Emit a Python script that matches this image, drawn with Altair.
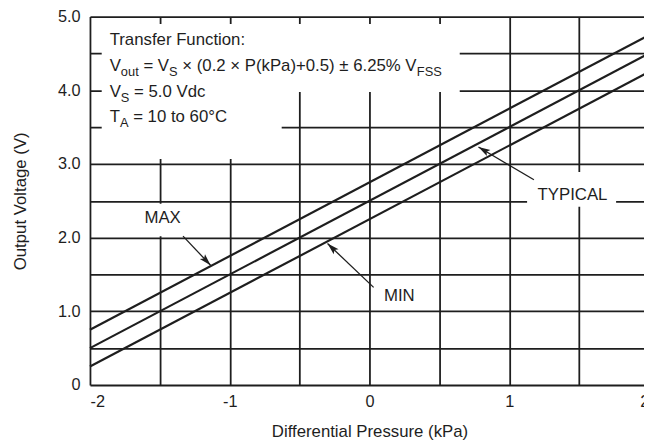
import math
import altair as alt
import pandas as pd

# ---------------- data ----------------
x_ticks = [-2, -1.5, -1, -0.5, 0, 0.5, 1, 1.5, 2]
y_ticks = [0, 0.5, 1, 1.5, 2, 2.5, 3, 3.5, 4, 4.5, 5]

pressure = [-2, 2]
v_max = [0.75, 4.75]
v_typ = [0.5, 4.5]
v_min = [0.25, 4.25]

curve_names = ["MAX", "TYPICAL", "MIN"]
label_x = [-1.48, 1.453, 0.214]
label_y = [2.262, 2.584, 1.205]
arrow_tail_x = [-1.334, 1.177, 0.03]
arrow_tail_y = [2.021, 2.785, 1.325]
arrow_tip_x = [-1.137, 0.78, -0.30]
arrow_tip_y = [1.625, 3.23, 1.92]

# white backgrounds behind the annotations (they interrupt the grid)
mask_x = [-1.916, -1.916, -1.668, 1.128]
mask_x2 = [0.646, -0.628, -1.279, 1.765]
mask_y = [3.976, 3.066, 2.02, 2.42]
mask_y2 = [4.90, 3.976, 2.46, 2.89]

note_lines = [
    [("Transfer Function:", False)],
    [("V", False), ("out", True), (" = V", False), ("S", True),
     (" \u00d7 (0.2 \u00d7 P(kPa)+0.5) \u00b1 6.25% V", False), ("FSS", True)],
    [("V", False), ("S", True), (" = 5.0 Vdc", False)],
    [("T", False), ("A", True), (" = 10 to 60\u00b0C", False)],
]
note_x0 = -1.859
note_baselines = [4.611, 4.263, 3.914, 3.566]

# ---------------- layout / style ----------------
FONT = "Liberation Sans"
INK = "#1e1e1e"
VIEW_W = 566       # x from -2 to 2; the right few pixels are cut off like the reference
VIEW_H = 373
PX_X = VIEW_W / (x_ticks[-1] - x_ticks[0])
PX_Y = VIEW_H / (y_ticks[-1] - y_ticks[0])
MAIN_SIZE = 17
SUB_SIZE = 13
SUB_DROP = 5 / PX_Y

ARIAL = {' ': 278, 'T': 611, 'r': 333, 'a': 556, 'n': 556, 's': 500, 'f': 278,
         'e': 556, 'F': 611, 'u': 556, 'c': 500, 't': 278, 'i': 222, 'o': 556,
         ':': 278, 'V': 667, '=': 584, 'S': 667, '\u00d7': 584, '(': 333,
         ')': 333, '.': 278, 'P': 667, 'k': 500, '+': 584, '\u00b1': 549,
         '%': 889, 'A': 667, 'd': 556, '\u00b0': 400, 'C': 722}


def text_w(s, size):
    return sum(ARIAL.get(c, 556) for c in s) * size / 1000.0


# ---------------- tables ----------------
lines_df = pd.DataFrame({
    "x": pressure * 3,
    "y": v_max + v_typ + v_min,
    "curve": sum([[n] * len(pressure) for n in curve_names], []),
})

mask_df = pd.DataFrame({"x": mask_x, "x2": mask_x2, "y": mask_y, "y2": mask_y2})

labels_df = pd.DataFrame({"x": label_x, "y": label_y, "text": curve_names})

arrows_df = pd.DataFrame({"x": arrow_tail_x, "y": arrow_tail_y,
                          "x2": arrow_tip_x, "y2": arrow_tip_y})

heads = []
for tx, ty, hx, hy in zip(arrow_tail_x, arrow_tail_y, arrow_tip_x, arrow_tip_y):
    dxp = (hx - tx) * PX_X
    dyp = -(hy - ty) * PX_Y
    ang = math.degrees(math.atan2(dxp, -dyp)) % 360
    heads.append({"x": hx, "y": hy, "angle": ang})
heads_df = pd.DataFrame(heads)

segs = []
for line, base in zip(note_lines, note_baselines):
    cursor = 0.0
    for txt, sub in line:
        size = SUB_SIZE if sub else MAIN_SIZE
        lead = len(txt) - len(txt.lstrip(" "))
        cursor += text_w(" " * lead, size)   # SVG drops leading spaces
        body = txt.strip(" ")
        segs.append({"x": note_x0 + cursor / PX_X,
                     "y": base - (SUB_DROP if sub else 0.0),
                     "text": body, "size": size})
        cursor += text_w(txt.lstrip(" "), size)
segs_df = pd.DataFrame(segs)

# ---------------- encodings ----------------
x_scale = alt.Scale(domain=[x_ticks[0], x_ticks[-1]], nice=False, zero=False)
y_scale = alt.Scale(domain=[y_ticks[0], y_ticks[-1]], nice=False, zero=False)

x_axis = alt.Axis(
    values=x_ticks, grid=True, gridColor=INK, gridWidth=1.8, gridOpacity=1,
    ticks=False, domain=False, labelFlush=True, labelOverlap=False,
    labelExpr="datum.value % 1 === 0 ? '' + datum.value : ''",
    labelPadding=9, labelFont=FONT, labelFontSize=16.5, labelColor=INK,
    title="Differential Pressure (kPa)", titleFont=FONT, titleFontSize=17,
    titleFontWeight="normal", titleColor=INK, titlePadding=14,
)
y_axis = alt.Axis(
    values=y_ticks, grid=True, gridColor=INK, gridWidth=1.8, gridOpacity=1,
    ticks=False, domain=False, labelOverlap=False,
    labelExpr="datum.value === 0 ? '0' : (datum.value % 1 === 0 ? format(datum.value, '.1f') : '')",
    labelPadding=10, labelFont=FONT, labelFontSize=16.5, labelColor=INK,
    title="Output Voltage (V)", titleFont=FONT, titleFontSize=17,
    titleFontWeight="normal", titleColor=INK, titlePadding=28,
)


def X(field="x"):
    return alt.X(f"{field}:Q", scale=x_scale, axis=x_axis)


def Y(field="y"):
    return alt.Y(f"{field}:Q", scale=y_scale, axis=y_axis)


masks = alt.Chart(mask_df).mark_rect(color="white", opacity=1).encode(
    x=X(), x2="x2:Q", y=Y(), y2="y2:Q")

curves = alt.Chart(lines_df).mark_line(color=INK, strokeWidth=2.2).encode(
    x=X(), y=Y(), detail="curve:N")

arrow_lines = alt.Chart(arrows_df).mark_rule(color=INK, strokeWidth=1.3).encode(
    x=X(), y=Y(), x2="x2:Q", y2="y2:Q")

arrow_heads = alt.Chart(heads_df).mark_point(
    shape="M0,0L0.6,2L0,1.6L-0.6,2Z", filled=True, color=INK, opacity=1, size=144,
).encode(x=X(), y=Y(), angle=alt.Angle("angle:Q", scale=None))

curve_labels = alt.Chart(labels_df).mark_text(
    font=FONT, fontSize=17, color=INK, align="center", baseline="middle",
).encode(x=X(), y=Y(), text="text:N")

note = alt.Chart(segs_df).mark_text(
    font=FONT, color=INK, align="left", baseline="alphabetic",
).encode(x=X(), y=Y(), text="text:N", size=alt.Size("size:Q", scale=None))

chart = alt.layer(masks, curves, arrow_lines, arrow_heads, curve_labels, note).properties(
    width=VIEW_W, height=VIEW_H,
    autosize=alt.AutoSizeParams(type="none"),
    padding={"left": 83, "top": 6, "right": -5, "bottom": 56},
    background="white",
).configure_view(strokeWidth=0)

chart.save("out.html", embed_options={"renderer": "svg", "actions": False})
